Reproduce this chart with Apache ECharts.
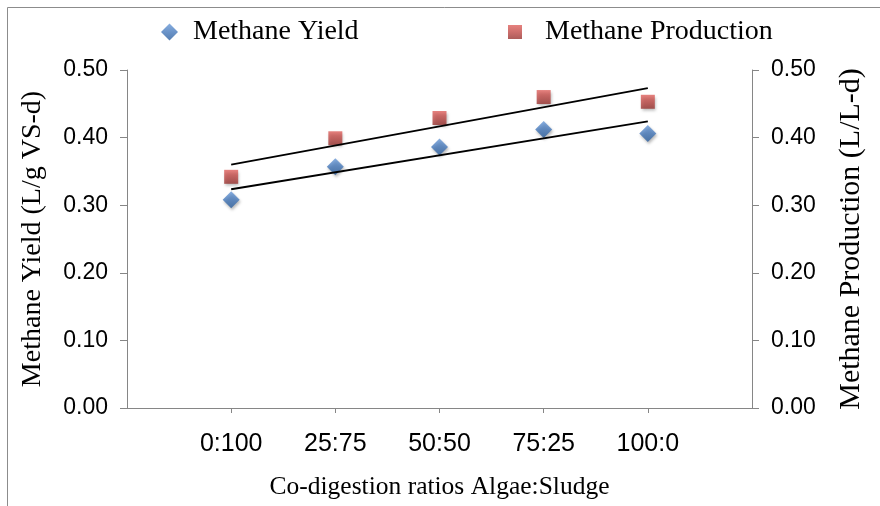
<!DOCTYPE html>
<html>
<head>
<meta charset="utf-8">
<script src="https://cdn.jsdelivr.net/npm/echarts@6/dist/echarts.min.js"></script>
<style>
  html, body { margin: 0; padding: 0; background: #ffffff; }
  #chart { width: 880px; height: 506px; }
</style>
</head>
<body>
<div id="chart"></div>
<script>
// Co-digestion ratios (Algae:Sludge) and measured methane values
const ratios = ['0:100', '25:75', '50:50', '75:25', '100:0'];
const methaneYield = [0.308, 0.357, 0.386, 0.412, 0.406];      // L/g VS-d
const methaneProduction = [0.342, 0.399, 0.429, 0.460, 0.453]; // L/L-d

const serif = 'Liberation Serif';
const sans = 'Liberation Sans';
const axisGray = '#868686';

// Ratios sit at x = 1..n on a 0..n+1 value axis
const toPoints = vals => vals.map((v, i) => [i + 1, v]);

// Least-squares linear trend over the plotted points, drawn from first to last ratio
function linearTrend(vals) {
  const n = vals.length;
  const xs = vals.map((_, i) => i + 1);
  const mx = xs.reduce((a, b) => a + b, 0) / n;
  const my = vals.reduce((a, b) => a + b, 0) / n;
  let sxy = 0, sxx = 0;
  xs.forEach((x, i) => { sxy += (x - mx) * (vals[i] - my); sxx += (x - mx) * (x - mx); });
  const slope = sxy / sxx;
  const at = x => my + slope * (x - mx);
  return [[xs[0], at(xs[0])], [xs[n - 1], at(xs[n - 1])]];
}

const blueFill = new echarts.graphic.LinearGradient(0, 0, 0, 1, [
  { offset: 0, color: '#6a9ad8' },
  { offset: 0.5, color: '#4679bb' },
  { offset: 1, color: '#2c5f9e' }
]);
const redFill = new echarts.graphic.LinearGradient(0, 0, 0, 1, [
  { offset: 0, color: '#e0625e' },
  { offset: 0.5, color: '#c04a47' },
  { offset: 1, color: '#983431' }
]);
const markShadow = { shadowColor: 'rgba(0,0,0,0.35)', shadowBlur: 3, shadowOffsetX: 1, shadowOffsetY: 2 };

const valueAxis = (pos, name, gap, nameSize) => ({
  type: 'value',
  position: pos,
  min: 0,
  max: 0.5,
  interval: 0.1,
  name: name,
  nameLocation: 'middle',
  nameGap: gap,
  nameTextStyle: { fontFamily: serif, fontSize: nameSize, color: '#000' },
  axisLine: { show: true, lineStyle: { color: axisGray, width: 1 } },
  axisTick: { show: true, length: 7, lineStyle: { color: axisGray } },
  axisLabel: { fontFamily: sans, fontSize: 23, color: '#000', margin: 19,
               formatter: v => v.toFixed(2) },
  splitLine: { show: false }
});

const chart = echarts.init(document.getElementById('chart'), null, { renderer: 'canvas' });
chart.setOption({
  animation: false,
  backgroundColor: '#ffffff',
  graphic: [{
    type: 'rect',
    shape: { x: 7.5, y: 7.5, width: 900, height: 600 },
    style: { fill: 'none', stroke: '#8c8c8c', lineWidth: 1 },
    silent: true
  }],
  legend: [
    {
      data: [{ name: 'Methane Yield', icon: 'diamond' }],
      left: 156, top: 13,
      itemWidth: 17, itemHeight: 17,
      textStyle: { fontFamily: serif, fontSize: 28, color: '#000', padding: [0, 0, 0, 10] }
    },
    {
      data: [{ name: 'Methane Production', icon: 'rect' }],
      left: 503, top: 13,
      itemWidth: 14, itemHeight: 14,
      textStyle: { fontFamily: serif, fontSize: 28, color: '#000', padding: [0, 0, 0, 18] }
    }
  ],
  grid: { left: 127, right: 128, top: 70, bottom: 98, containLabel: false },
  xAxis: {
    type: 'value',
    min: 0,
    max: ratios.length + 1,
    interval: 1,
    name: 'Co-digestion ratios Algae:Sludge',
    nameLocation: 'middle',
    nameGap: 66,
    nameTextStyle: { fontFamily: serif, fontSize: 25.5, color: '#000' },
    axisLine: { show: true, lineStyle: { color: axisGray, width: 1 } },
    axisTick: { show: true, length: 5, lineStyle: { color: axisGray } },
    axisLabel: { fontFamily: sans, fontSize: 25, color: '#000', margin: 24,
                 showMinLabel: false, showMaxLabel: false,
                 formatter: v => ratios[v - 1] || '' },
    splitLine: { show: false }
  },
  yAxis: [
    valueAxis('left', 'Methane Yield (L/g VS-d)', 80, 28),
    valueAxis('right', 'Methane Production (L/L-d)', 84, 30)
  ],
  series: [
    {
      name: 'Methane Yield',
      type: 'scatter',
      yAxisIndex: 0,
      symbol: 'diamond',
      symbolSize: 17,
      itemStyle: Object.assign({ color: blueFill }, markShadow),
      data: toPoints(methaneYield),
      z: 3
    },
    {
      name: 'Methane Production',
      type: 'scatter',
      yAxisIndex: 1,
      symbol: 'rect',
      symbolSize: 14,
      itemStyle: Object.assign({ color: redFill }, markShadow),
      data: toPoints(methaneProduction),
      z: 3
    },
    {
      name: 'Yield trend',
      type: 'line',
      yAxisIndex: 0,
      symbol: 'none',
      lineStyle: { color: '#000', width: 2 },
      data: linearTrend(methaneYield),
      z: 4,
      silent: true
    },
    {
      name: 'Production trend',
      type: 'line',
      yAxisIndex: 1,
      symbol: 'none',
      lineStyle: { color: '#000', width: 2 },
      data: linearTrend(methaneProduction),
      z: 4,
      silent: true
    }
  ]
});
</script>
</body>
</html>
